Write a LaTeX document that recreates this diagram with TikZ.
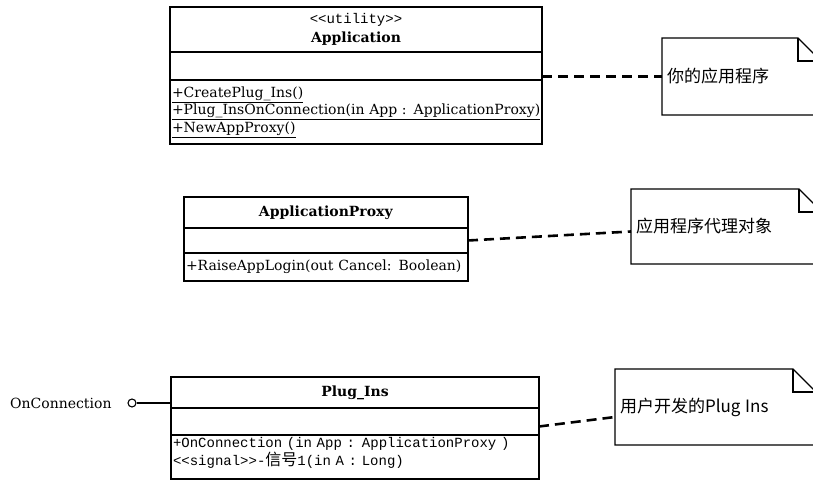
\documentclass[tikz,border=0pt]{standalone}
\usepackage{fontspec}
\setmainfont{DejaVu Serif}
\setmonofont{Liberation Mono}
\newfontfamily\cjk{Noto Sans CJK SC}
\usetikzlibrary{positioning}
\tikzset{
  compart/.style={draw,line width=1.3pt,minimum width=#1,inner sep=2pt,outer sep=0pt},
  notebox/.style={inner sep=5pt,outer sep=0pt,align=left,anchor=north west},
  noteline/.style={line width=1.3pt,line join=miter},
  notelink/.style={line width=2.6pt,dash pattern=on 10pt off 6pt},
}
\newcommand{\umlnote}[2]{%
  \draw[noteline] (#1.north west) -- ([xshift=-#2]#1.north east)
    -- ([yshift=-#2]#1.north east) -- (#1.south east) -- (#1.south west) -- cycle;
  \draw[noteline] ([xshift=-#2]#1.north east) -- ([xshift=-#2,yshift=-#2]#1.north east)
    -- ([yshift=-#2]#1.north east);}

\begin{document}
\begin{tikzpicture}[x=1pt,y=1pt,font={\fontsize{14}{17.5}\selectfont}]
\clip (0,0) rectangle (813,481);
% Application
\node[compart=372,minimum height=45,anchor=north,align=center] (app-head) at (356,474)
  {\texttt{<<utility>>}\\[2pt]\textbf{Application}};
\node[compart=372,minimum height=28,below=0pt of app-head] (app-attr) {};
\node[compart=372,minimum height=64,below=0pt of app-attr,align=left,text width=368] (app-ops)
  {\underline{+CreatePlug\_Ins()}\\
   \underline{+Plug\_InsOnConnection(in App : ApplicationProxy)}\\
   \underline{+NewAppProxy()}};
% ApplicationProxy
\node[compart=284,minimum height=31,anchor=north] (proxy-head) at (326,284) {\textbf{ApplicationProxy}};
\node[compart=284,minimum height=25,below=0pt of proxy-head] (proxy-attr) {};
\node[compart=284,minimum height=28,below=0pt of proxy-attr,align=left,text width=280] (proxy-ops)
  {+RaiseAppLogin(out Cancel: Boolean)};
% Plug_Ins
\node[compart=368,minimum height=31,anchor=north] (plug-head) at (355,104) {\textbf{Plug\_Ins}};
\node[compart=368,minimum height=27,below=0pt of plug-head] (plug-attr) {};
\node[compart=368,minimum height=44,below=0pt of plug-attr,align=left,text width=364] (plug-ops)
  {\ttfamily +OnConnection (in App : ApplicationProxy )\\
   \ttfamily <<signal>>-{\cjk\fontsize{16}{17}\selectfont 信号}1(in A : Long)\\[-6pt]\mbox{}};
% interface
\node[anchor=west,inner sep=0pt] (iface-name) at (10,78) {OnConnection};
\node[circle,draw,line width=1.1pt,minimum size=8,inner sep=0pt] (iface) at (132,78) {};
\draw[line width=1.3pt] (iface) -- (iface -| plug-head.west);
% notes
\node[notebox,minimum width=159,minimum height=77,text width=149] (note-app) at (662,443)
  {\cjk\fontsize{17}{19}\selectfont 你的应用程序};
\node[notebox,minimum width=191,minimum height=75,text width=181] (note-proxy) at (631,292)
  {\cjk\fontsize{17}{19}\selectfont 应用程序代理对象};
\node[notebox,minimum width=201,minimum height=76,text width=191] (note-plug) at (615,112)
  {\cjk\fontsize{17}{19}\selectfont 用户开发的Plug Ins};
\umlnote{note-app}{23pt}
\umlnote{note-proxy}{23pt}
\umlnote{note-plug}{23pt}
\draw[notelink] (note-app.west -| app-ops.east) -- (note-app.west);
\draw[notelink] (proxy-attr.east) -- ([yshift=-5pt]note-proxy.west);
\draw[notelink] ([yshift=-5pt]plug-attr.east) -- ([yshift=-10pt]note-plug.west);
\end{tikzpicture}
\end{document}
